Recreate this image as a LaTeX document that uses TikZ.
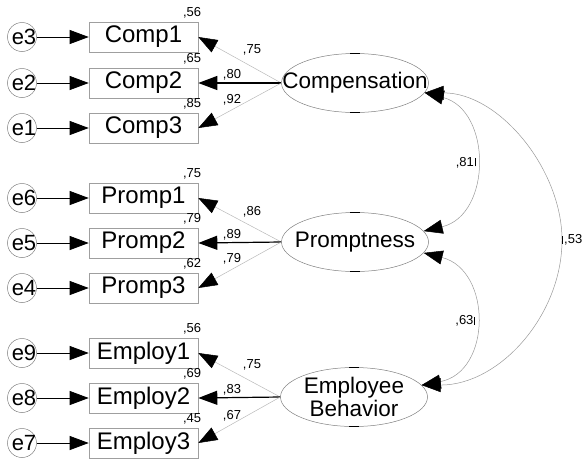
\documentclass[tikz,border=0pt]{standalone}
\usepackage{fontspec}
\setmainfont{Liberation Sans}
\usetikzlibrary{positioning,arrows.meta,shapes.geometric}

\tikzset{
  bigtxt/.style={font=\fontsize{22}{22}\selectfont},
  coef/.style={font=\fontsize{13}{13}\selectfont, inner sep=1pt},
  err/.style={circle, draw=gray, line width=0.5pt, minimum size=29pt, inner sep=0pt},
  errtxt/.style={bigtxt, inner sep=0pt, xshift=2pt},
  ind/.style={rectangle, draw=gray!75, line width=0.6pt, minimum width=109pt,
    minimum height=30pt, inner sep=0pt, font=\fontsize{24}{24}\selectfont},
  lat/.style={ellipse, draw=gray, line width=0.5pt, minimum width=147pt,
    minimum height=59pt, inner sep=0pt},
  lattxt/.style={font=\fontsize{22.5}{22.5}\selectfont, inner sep=0pt, align=center},
  head/.tip={Triangle[length=19pt, width=14pt, color=black]},
  tip/.style={-head, line width=0.8pt},
  load/.style={-head, gray!55, line width=0.5pt},
  mainload/.style={-head, black, line width=1.2pt},
  cov/.style={head-head, gray!80, line width=0.5pt},
}

\begin{document}
\begin{tikzpicture}[x=1pt, y=-1pt]
  \useasboundingbox (0,0) rectangle (585,461);

  %----- indicators, their errors and R^2 -----
  \foreach \n/\txt/\e/\y/\r in {c1/Comp1/e3/37/56, c2/Comp2/e2/83/65, c3/Comp3/e1/128/85,
      p1/Promp1/e6/198/75, p2/Promp2/e5/243/79, p3/Promp3/e4/288/62,
      b1/Employ1/e9/353/56, b2/Employ2/e8/398/69, b3/Employ3/e7/443/45}{
    \node[ind] (\n) at (143.5,\y) {\txt};
    \node[err, label={[errtxt]center:\e}] (\e) at (22,\y) {};
    \draw[tip] (\e) -- (\n);
    \node[coef, anchor=south east] (r\n) at ([xshift=4pt,yshift=2pt]\n.north east) {,\r};
  }

  %----- latent factors -----
  \node[lat, label={[lattxt]center:Compensation}] (comp) at (355,83) {};
  \node[lat, label={[lattxt]center:Promptness}] (promp) at (355,242) {};
  \node[lat, label={[lattxt]center:Employee\\Behavior}] (empl) at (354,397) {};
  \foreach \f in {comp,promp,empl}{
    \draw[black, line width=0.8pt] ([xshift=-5pt]\f.north) -- ([xshift=5pt]\f.north);
    \draw[black, line width=0.8pt] ([xshift=-5pt]\f.south) -- ([xshift=5pt]\f.south);
  }

  %----- loadings -----
  \foreach \f/\a/\b/\c in {comp/c1/c2/c3, promp/p1/p2/p3, empl/b1/b2/b3}{
    \draw[load] (\f.west) -- (\a.east);
    \draw[mainload] (\f.west) -- (\b.east);
    \draw[load] (\f.west) -- (\c.east);
  }
  \node[coef] (l1) at (252,50) {,75};
  \node[coef] (l2) at (232,75) {,80};
  \node[coef] (l3) at (232,100) {,92};
  \node[coef] (l4) at (252,212) {,86};
  \node[coef] (l5) at (232,235) {,89};
  \node[coef] (l6) at (232,259) {,79};
  \node[coef] (l7) at (252,365) {,75};
  \node[coef] (l8) at (232,390) {,83};
  \node[coef] (l9) at (232,416) {,67};

  %----- covariances -----
  \draw[cov] (comp.-8) .. controls (492,110) and (492,215) .. (promp.9) coordinate[pos=.5] (m81);
  \draw[cov] (promp.-9) .. controls (492,270) and (492,372) .. (empl.10) coordinate[pos=.5] (m63);
  \draw[cov] (comp.-8) .. controls (500,93) and (562,170) .. (562,240) coordinate (m53)
    .. controls (562,315) and (500,385) .. (empl.10);
  \foreach \m in {m81,m63,m53}
    \draw[black, line width=0.8pt] ([yshift=-4pt]\m) -- ([yshift=4pt]\m);
  \node[coef, left=0pt of m81] (v81) {,81};
  \node[coef, left=0pt of m63] (v63) {,63};
  \node[coef, right=1pt of m53] (v53) {,53};
\end{tikzpicture}
\end{document}
